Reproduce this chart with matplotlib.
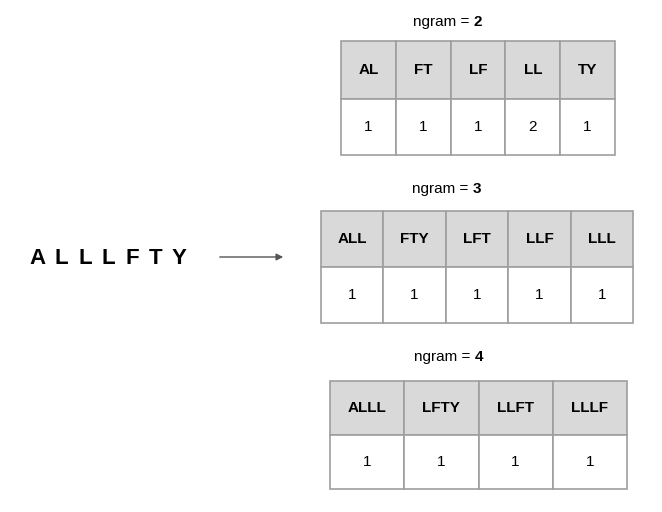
import matplotlib.pyplot as plt
from matplotlib.patches import Rectangle

# ngram tables
sequence = "ALLLFTY"
ngram_sizes = [2, 3, 4]
ngram_keys = [
    ["AL", "FT", "LF", "LL", "TY"],
    ["ALL", "FTY", "LFT", "LLF", "LLL"],
    ["ALLL", "LFTY", "LLFT", "LLLF"],
]
ngram_counts = [
    [1, 1, 1, 2, 1],
    [1, 1, 1, 1, 1],
    [1, 1, 1, 1],
]

# layout in pixels: (left, top, right, header_bottom, bottom, title_y)
layouts = [
    (341, 41, 615, 99, 155, 22),
    (321, 211, 633, 267, 323, 189),
    (330, 381, 627, 435, 489, 357),
]


def draw_table(ax, keys, counts, layout, n):
    left, top, right, mid, bottom, ty = layout
    w = (right - left) / len(keys)
    for i, (k, c) in enumerate(zip(keys, counts)):
        x = left + i * w
        ax.add_patch(Rectangle((x, top), w, mid - top, facecolor='#d9d9d9',
                               edgecolor='#9e9e9e', lw=1.2))
        ax.add_patch(Rectangle((x, mid), w, bottom - mid, facecolor='white',
                               edgecolor='#9e9e9e', lw=1.2))
        ax.text(x + w / 2, (top + mid) / 2, k, ha='center', va='center',
                fontsize=11, fontweight='bold', family='Liberation Sans')
        ax.text(x + w / 2, (mid + bottom) / 2, str(c), ha='center', va='center',
                fontsize=11, family='Liberation Sans')
    cx = (left + right) / 2
    ax.text(cx - 4, ty, "ngram = ", ha='right', va='center', fontsize=11,
            family='Liberation Sans')
    ax.text(cx - 4, ty, str(n), ha='left', va='center', fontsize=11,
            fontweight='bold', family='Liberation Sans')


fig = plt.figure(figsize=(6.62, 5.12), dpi=100)
ax = fig.add_axes([0, 0, 1, 1])
ax.set_xlim(0, 662)
ax.set_ylim(512, 0)
ax.axis('off')

for keys, counts, layout, n in zip(ngram_keys, ngram_counts, layouts, ngram_sizes):
    draw_table(ax, keys, counts, layout, n)

# letter-spaced sequence
for i, ch in enumerate(sequence):
    ax.text(38 + i * 23.5, 258, ch, ha='center', va='center', fontsize=16,
            fontweight='bold', family='Liberation Sans')

ax.annotate("", xy=(286, 257), xytext=(217, 257),
            arrowprops=dict(arrowstyle='-|>', color='#555555', lw=1,
                            mutation_scale=10))

fig.savefig("out.png", dpi=100)
